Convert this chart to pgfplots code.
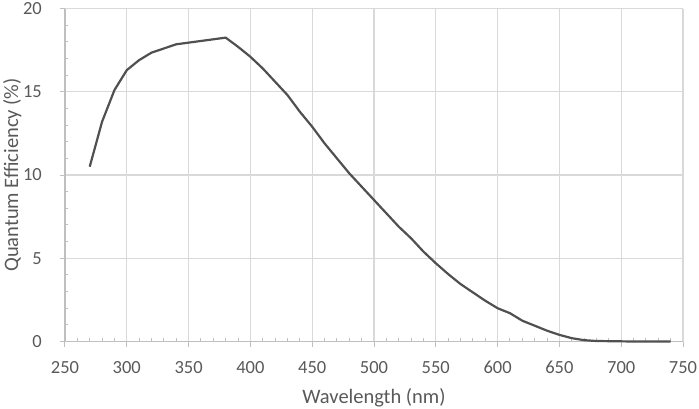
\documentclass[border=0pt]{standalone}
\usepackage{pgfplots}
\pgfplotsset{compat=1.18}
\usepackage{fontspec}
\setmainfont{Carlito}
\definecolor{txt}{HTML}{595959}
\definecolor{gridc}{HTML}{D9D9D9}
\definecolor{axc}{HTML}{BFBFBF}
\definecolor{linec}{HTML}{505050}
\begin{document}
\begin{tikzpicture}
\begin{axis}[
  scale only axis,
  width=618pt, height=333pt,
  xmin=250, xmax=750, ymin=0, ymax=20,
  xtick={250,300,...,750},
  ytick={0,5,...,20},
  minor x tick num=4,
  minor y tick num=4,
  grid=major,
  major grid style={color=gridc, line width=1.3pt},
  axis x line*=bottom, axis y line*=left,
  axis line style={color=axc, line width=1.3pt, -},
  tick align=outside,
  major tick length=5pt,
  minor tick length=-3.5pt,
  tick style={color=axc, line width=1pt},
  /pgf/number format/assume math mode=true,
  /pgf/number format/1000 sep={},
  ticklabel style={font=\fontsize{18.5}{22}\selectfont, text=txt, inner sep=0pt},
  xticklabel style={anchor=base, yshift=-27.3pt},
  yticklabel style={anchor=east, xshift=-18pt},
  xlabel={Wavelength (nm)},
  ylabel={Quantum Efficiency (\%)},
  xlabel style={font=\fontsize{20.5}{24}\selectfont, text=txt, inner sep=0pt,
    at={([yshift=-61.5pt]axis description cs:0.5,0)}, anchor=base},
  ylabel style={font=\fontsize{20.5}{24}\selectfont, text=txt, inner sep=0pt,
    at={([xshift=-62pt]axis description cs:0,0.5)}, rotate=0, anchor=north},
  clip=false,
]
\addplot[color=linec, line width=2.2pt, line join=round] coordinates {
(270,10.5) (280,13.2) (290,15.1) (300,16.3) (310,16.9) (320,17.35)
(330,17.6) (340,17.85) (350,17.95) (360,18.05) (370,18.15) (380,18.25)
(390,17.7) (400,17.1) (410,16.4) (420,15.6) (430,14.8) (440,13.8)
(450,12.9) (460,11.9) (470,11.0) (480,10.1) (490,9.3) (500,8.5)
(510,7.7) (520,6.9) (530,6.2) (540,5.4) (550,4.7) (560,4.05)
(570,3.45) (580,2.95) (590,2.45) (600,2.0) (610,1.7) (620,1.25)
(630,0.95) (640,0.65) (650,0.4) (660,0.2) (670,0.08) (680,0.03)
(690,0.02) (700,0.01) (710,0) (720,0) (730,0) (740,0)
};
\end{axis}
\path[use as bounding box] (-65pt,-66.5pt) rectangle (634pt,341.5pt);
\end{tikzpicture}
\end{document}
